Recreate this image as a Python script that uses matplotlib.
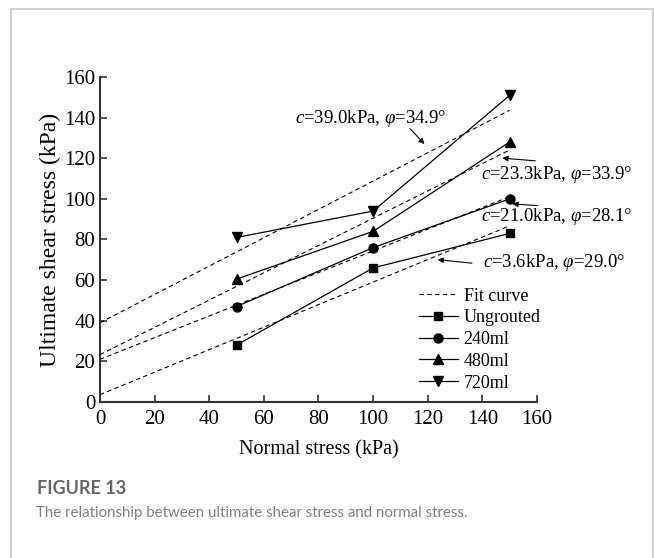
import numpy as np
import matplotlib
matplotlib.use('Agg')
import matplotlib.pyplot as plt
from matplotlib.patches import Rectangle

# measured data
normal = [50, 100, 150]
ungrouted = [28, 66, 83]
ml240 = [47, 76, 100]
ml480 = [60.5, 84, 128]
ml720 = [81, 94, 151]

# fit parameters (c in kPa, phi in degrees)
fit_c = [3.6, 21.0, 23.3, 39.0]
fit_phi = [29.0, 28.1, 33.9, 34.9]

plt.rcParams['font.family'] = ['Liberation Serif', 'DejaVu Serif']
plt.rcParams['mathtext.fontset'] = 'custom'
plt.rcParams['mathtext.rm'] = 'Liberation Serif'
plt.rcParams['mathtext.it'] = 'Liberation Serif:italic'

fig = plt.figure(figsize=(6.54, 5.58), dpi=100)
ax = fig.add_axes([0.1529, 0.2796, 0.6682, 0.5824])

# outer card border
fig.patches.append(Rectangle((11/654, -0.05), 642/654, 1.05 - 9/558, transform=fig.transFigure,
                             fill=False, ec='#d0d0d0', lw=1.5))

xf = np.array([0, 150])
for i, (c, phi) in enumerate(zip(fit_c, fit_phi)):
    ax.plot(xf, c + xf*np.tan(np.radians(phi)), ls=(0, (4, 3)), c='k', lw=0.8,
            label='Fit curve' if i == 0 else None)

ax.plot(normal, ungrouted, '-s', c='k', lw=0.9, ms=5.5, label='Ungrouted')
ax.plot(normal, ml240, '-o', c='k', lw=0.9, ms=6.5, label='240ml')
ax.plot(normal, ml480, '-^', c='k', lw=0.9, ms=7.5, label='480ml')
ax.plot(normal, ml720, '-v', c='k', lw=0.9, ms=7.5, label='720ml')

ax.set_xlim(0, 160)
ax.set_ylim(0, 160)
ax.set_xticks(range(0, 161, 20))
ax.set_yticks(range(0, 161, 20))
ax.tick_params(direction='in', labelsize=15, length=5, width=1.2, color='#333333')
ax.tick_params(axis='x', pad=6)
for s in ['top', 'right']:
    ax.spines[s].set_visible(False)
for s in ['left', 'bottom']:
    ax.spines[s].set_linewidth(1.5)
    ax.spines[s].set_color('#333333')
ax.set_xlabel('Normal stress (kPa)', fontsize=14.5, labelpad=8)
ax.set_ylabel('Ultimate shear stress (kPa)', fontsize=17, labelpad=2)

# fit annotations: text, arrow tail, arrow head (data units)
ap = dict(arrowstyle='-|>', color='k', lw=0.8, mutation_scale=8)
ax.text(71.3, 139.7, r'$c$=39.0kPa, $\varphi$=34.9°', fontsize=13.5, va='center', ha='left')
ax.annotate('', xy=(119.5, 126.0), xytext=(112.8, 135.6), arrowprops=ap)
ax.text(139.6, 112.2, r'$c$=23.3kPa, $\varphi$=33.9°', fontsize=13.5, va='center', ha='left')
ax.annotate('', xy=(146.3, 120.2), xytext=(160.4, 118.6), arrowprops=ap, annotation_clip=False)
ax.text(139.6, 91.1, r'$c$=21.0kPa, $\varphi$=28.1°', fontsize=13.5, va='center', ha='left')
ax.annotate('', xy=(150.0, 97.6), xytext=(161.3, 96.6), arrowprops=ap, annotation_clip=False)
ax.text(140.2, 68.7, r'$c$=3.6kPa, $\varphi$=29.0°', fontsize=13.5, va='center', ha='left')
ax.annotate('', xy=(122.6, 70.2), xytext=(137.2, 68.2), arrowprops=ap)

ax.legend(loc='lower right', bbox_to_anchor=(1.025, 0.01), frameon=False, fontsize=13,
          handlelength=2.2, handletextpad=0.3, labelspacing=0.26, borderaxespad=0)

fig.text(37/654, 1 - 489/558, 'FIGURE 13', fontsize=13, color='#666666', family='Lato',
         weight='bold', va='center')
fig.text(36/654, 1 - 513/558, 'The relationship between ultimate shear stress and normal stress.',
         fontsize=10.8, color='#808080', family='Lato', va='center')

fig.savefig('out.png', dpi=100)
